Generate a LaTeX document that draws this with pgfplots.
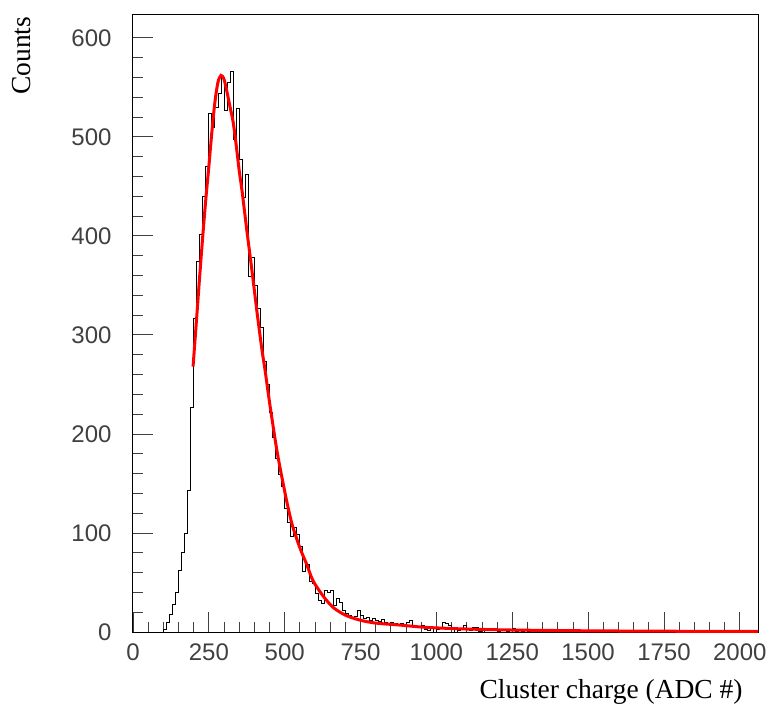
\documentclass[border=0pt]{standalone}
\usepackage{pgfplots}
\pgfplotsset{compat=1.18}
\usepackage{fontspec}
\setmainfont{Liberation Serif}
\newfontfamily\ticksans{Liberation Sans}

% cluster charge histogram, bin width 10 ADC (left edges)
\pgfplotstableread{
x y
0 0
90 0
100 3
110 10
120 18
130 28
140 40
150 62
160 80
170 100
180 143
190 227
200 317
210 374
220 401
230 440
240 470
250 524
260 509
270 530
280 544
290 560
300 527
310 555
320 566
330 497
340 529
350 477
360 439
370 462
380 359
390 378
400 350
410 327
420 308
430 273
440 250
450 222
460 196
470 175
480 159
490 147
500 125
510 111
520 96
530 106
540 98
550 86
560 61
570 68
580 51
590 49
600 39
610 32
620 29
630 42
640 40
650 42
660 27
670 34
680 30
690 22
700 19
710 17
720 14
730 16
740 22
750 17
760 14
770 15
780 12
790 14
800 12
810 11
820 13
830 10
840 9
850 10
860 9
870 8
880 9
890 7
900 10
910 12
920 7
930 6
940 5
950 7
960 3
970 2
980 4
990 0
1000 3
1010 5
1020 10
1030 9
1040 7
1050 3
1060 0
1070 2
1080 4
1090 7
1100 3
1110 2
1120 5
1130 5
1140 1
1150 0
1160 2
1170 4
1180 2
1190 3
1200 1
1210 2
1220 3
1230 1
1240 2
1250 4
1260 1
1270 2
1280 1
1290 3
1300 1
1310 2
1320 0
1330 1
1340 2
1350 1
1360 3
1370 1
1380 0
1390 2
1400 1
1410 0
1420 1
1430 2
1440 0
1450 1
1460 0
1480 1
1490 0
1530 1
1540 0
1600 1
1610 0
1700 1
1710 0
1850 1
1860 0
2060 0
}\histdata

% fitted curve
\pgfplotstableread{
x y
198 268
210 318
220 360
230 400
240 437
250 470
260 505
270 535
280 555
290 562
300 558
310 545
320 530
330 515
340 492
350 466
360 444
375 406
390 370
400 345
410 320
425 285
435 265
450 232
475 182
500 142
511 126
525 108
550 85
573 68
593 52
625 37
659 25
700 17
748 12
800 9
880 7
950 5
1011 4
1100 3
1250 2
1500 1.2
1750 0.8
2000 0.6
2060 0.5
}\fitdata

\begin{document}
\begin{tikzpicture}[x=1bp,y=1bp]
\begin{axis}[
  at={(0,0)}, anchor=south west,
  scale only axis, width=625bp, height=617bp,
  xmin=0, xmax=2060, ymin=0, ymax=623,
  xtick={0,250,...,2000}, ytick={0,100,...,600},
  minor x tick num=4, minor y tick num=4,
  xtick pos=bottom, ytick pos=left,
  tick align=inside,
  major tick length=20bp, minor tick length=10bp,
  tick style={black!75, line width=0.8bp},
  axis line style={black, line width=1bp},
  /pgf/number format/1000 sep={},
  /pgf/number format/assume math mode=true,
  ticklabel style={font=\ticksans\fontsize{24bp}{28bp}\selectfont, text=black!75},
  xticklabel style={yshift=-8bp},
  yticklabel style={xshift=-18bp},
  xlabel={Cluster charge (ADC \#)},
  ylabel={Counts},
  label style={font=\fontsize{27.5bp}{32bp}\selectfont},
  xlabel style={at={(axis description cs:0.981,-0.097)}, anchor=east},
  ylabel style={at={(axis description cs:-0.178,1.003)}, anchor=east},
]
\addplot[const plot mark left, black, line width=0.9bp] table {\histdata};
\addplot[red, line width=3bp, smooth] table {\fitdata};
\end{axis}
\pgfresetboundingbox
\path[use as bounding box] (-133bp,-78bp) rectangle (641bp,632bp);
\end{tikzpicture}
\end{document}
